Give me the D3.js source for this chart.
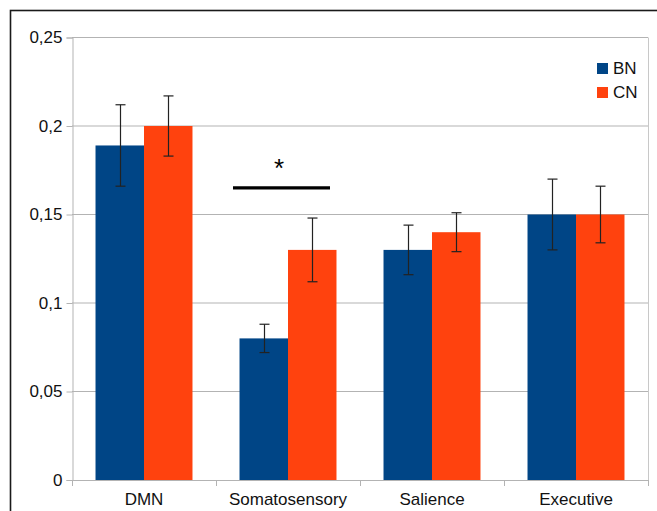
<!DOCTYPE html>
<html><head><meta charset="utf-8">
<script src="https://cdn.jsdelivr.net/npm/d3@7"></script>
<style>body{margin:0;background:#fff}svg{display:block;font-family:"Liberation Sans",Arial,sans-serif}</style>
</head><body><svg id="c" width="657" height="511"></svg>
<script>
const categories = ["DMN","Somatosensory","Salience","Executive"];
const seriesNames = ["BN","CN"];
const bnValues = [0.189, 0.080, 0.130, 0.150];
const bnErrLow = [0.166, 0.072, 0.116, 0.130];
const bnErrHigh = [0.212, 0.088, 0.144, 0.170];
const cnValues = [0.200, 0.130, 0.140, 0.150];
const cnErrLow = [0.183, 0.112, 0.129, 0.134];
const cnErrHigh = [0.217, 0.148, 0.151, 0.166];
const yTicks = [0, 0.05, 0.1, 0.15, 0.2, 0.25];
const yTickLabels = ["0","0,05","0,1","0,15","0,2","0,25"];
const colors = ["#004586","#ff420e"];
const sigCategory = "Somatosensory";

const svg = d3.select("#c");
const L = 72, R = 648, T = 37.5, B = 480;
const FS = 17;

svg.append("rect").attr("x",10.5).attr("y",10.5).attr("width",700).attr("height",600)
  .attr("fill","none").attr("stroke","#1a1a1a").attr("stroke-width",1.6);

const x0 = d3.scaleBand().domain(categories).range([L,R]).padding(0);
const x1 = d3.scaleBand().domain(seriesNames).range([0,x0.bandwidth()]).paddingInner(0).paddingOuter(0.485);
const y = d3.scaleLinear().domain([0,0.25]).range([B,T]);

// gridlines
svg.append("g").selectAll("line").data(yTicks.slice(1)).join("line")
  .attr("x1",L).attr("x2",R).attr("y1",d=>y(d)).attr("y2",d=>y(d))
  .attr("stroke","#b3b3b3").attr("stroke-width",1);
// right frame line
svg.append("line").attr("x1",R+0.5).attr("x2",R+0.5).attr("y1",y(0.25)).attr("y2",B).attr("stroke","#c8c8c8");

// y axis
const yAxis = d3.axisLeft(y).tickValues(yTicks).tickFormat((d,i)=>yTickLabels[i]).tickSize(6).tickPadding(4);
const gy = svg.append("g").attr("transform",`translate(${L+0.5},0)`).call(yAxis);
gy.select(".domain").attr("stroke","#b3b3b3");
gy.selectAll(".tick line").attr("stroke","#b3b3b3");
gy.selectAll("text").attr("font-size",FS).attr("fill","#111").attr("font-family","Liberation Sans, Arial, sans-serif");

const data = categories.map((c,i)=>({cat:c, vals:[
  {s:"BN", v:bnValues[i], lo:bnErrLow[i], hi:bnErrHigh[i]},
  {s:"CN", v:cnValues[i], lo:cnErrLow[i], hi:cnErrHigh[i]}]}));

const g = svg.append("g").selectAll("g").data(data).join("g")
  .attr("transform",d=>`translate(${x0(d.cat)},0)`);
g.selectAll("rect").data(d=>d.vals).join("rect")
  .attr("x",d=>x1(d.s)).attr("width",x1.bandwidth())
  .attr("y",d=>y(d.v)).attr("height",d=>y(0)-y(d.v))
  .attr("fill",(d,i)=>colors[i]);

// error bars
const eb = g.selectAll("g.eb").data(d=>d.vals).join("g").attr("class","eb")
  .attr("transform",d=>`translate(${Math.round(x1(d.s)+x1.bandwidth()/2)+0.5},0)`);
eb.append("line").attr("y1",d=>y(d.lo)).attr("y2",d=>y(d.hi)).attr("stroke","#222").attr("stroke-width",1.2);
eb.append("line").attr("x1",-5).attr("x2",5).attr("y1",d=>y(d.hi)).attr("y2",d=>y(d.hi)).attr("stroke","#222").attr("stroke-width",1.2);
eb.append("line").attr("x1",-5).attr("x2",5).attr("y1",d=>y(d.lo)).attr("y2",d=>y(d.lo)).attr("stroke","#222").attr("stroke-width",1.2);

// x axis
svg.append("line").attr("x1",L).attr("x2",R).attr("y1",B+0.5).attr("y2",B+0.5).attr("stroke","#b3b3b3");
const bounds = categories.map(c=>x0(c)).concat([R]);
svg.append("g").selectAll("line").data(bounds).join("line")
  .attr("x1",d=>Math.round(d)+0.5).attr("x2",d=>Math.round(d)+0.5).attr("y1",B).attr("y2",B+6).attr("stroke","#b3b3b3");
svg.append("g").selectAll("text").data(categories).join("text")
  .attr("x",d=>x0(d)+x0.bandwidth()/2).attr("y",B+25)
  .attr("text-anchor","middle").attr("font-size",FS).attr("fill","#111").text(d=>d);

// significance marker
const sx = x0(sigCategory);
svg.append("line").attr("x1",sx+17).attr("x2",sx+114).attr("y1",y(0.165)).attr("y2",y(0.165))
  .attr("stroke","#000").attr("stroke-width",3.2);
svg.append("text").attr("x",sx+63).attr("y",y(0.165)-11).attr("text-anchor","middle")
  .attr("font-size",26).attr("fill","#000").text("*");

// legend
const lg = svg.append("g").selectAll("g").data(seriesNames).join("g")
  .attr("transform",(d,i)=>`translate(597,${63+i*24})`);
lg.append("rect").attr("width",11).attr("height",11).attr("fill",(d,i)=>colors[i]);
lg.append("text").attr("x",16).attr("y",11).attr("font-size",FS).attr("fill","#111").text(d=>d);
</script></body></html>
